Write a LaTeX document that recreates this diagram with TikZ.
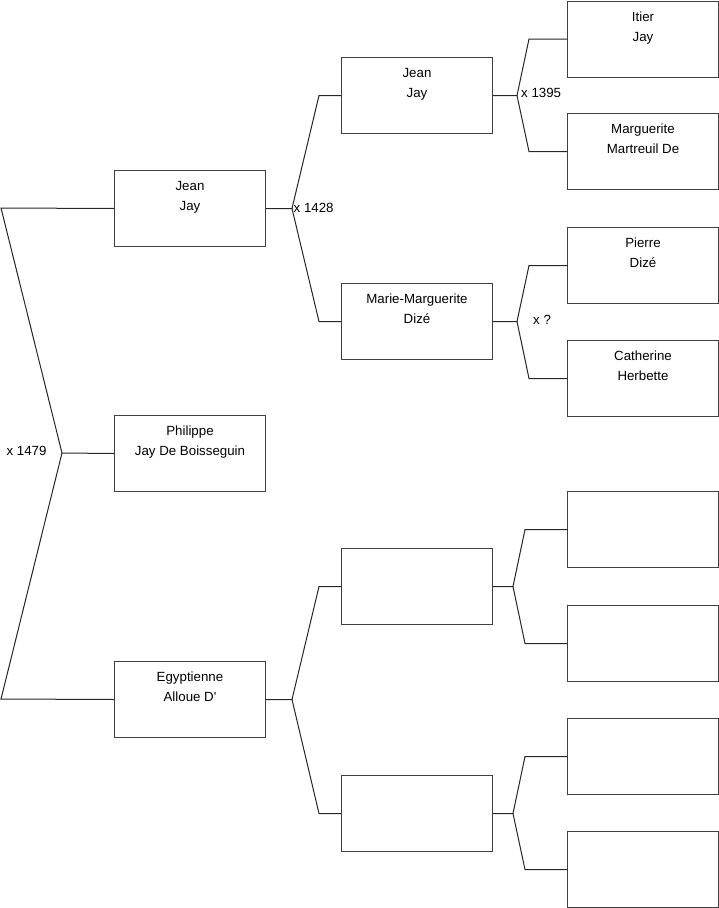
\documentclass[tikz,border=0pt]{standalone}
\usepackage{fontspec}
\setmainfont{Liberation Sans}
\begin{document}
\begin{tikzpicture}[x=1pt,y=-1pt,
  box/.style={draw=black!75, line width=1pt, minimum width=151pt, minimum height=76pt, inner sep=0pt, anchor=north west},
  nm/.style={align=center, inner sep=0pt, font=\fontsize{13.3}{20}\selectfont, text=black},
  lnk/.style={draw=black!85, line width=1pt},
  mar/.style={inner sep=0pt, font=\fontsize{13.3}{15}\selectfont, text=black}]
\useasboundingbox (0,0) rectangle (719,908);
% generation 0 and 1
\node[box] (p) at (114,415) {};
\node[box] (j1) at (114,170) {};
\node[box] (e1) at (114,661) {};
% generation 2
\node[box] (j2) at (341,57) {};
\node[box] (m2) at (341,283) {};
\node[box] (u1) at (341,548) {};
\node[box] (u2) at (341,775) {};
% generation 3
\node[box] (g1) at (567,0.5) {};
\node[box] (g2) at (567,113) {};
\node[box] (g3) at (567,227) {};
\node[box] (g4) at (567,340) {};
\node[box] (g5) at (567,491) {};
\node[box] (g6) at (567,605) {};
\node[box] (g7) at (567,718) {};
\node[box] (g8) at (567,831) {};
% names
\node[nm, anchor=north] (tp) at ([yshift=-6pt]p.north) {\strut Philippe\\\strut Jay De Boisseguin};
\node[nm, anchor=north] (tj1) at ([yshift=-6pt]j1.north) {\strut Jean\\\strut Jay};
\node[nm, anchor=north] (te1) at ([yshift=-6pt]e1.north) {\strut Egyptienne\\\strut Alloue D\textquotesingle};
\node[nm, anchor=north] (tj2) at ([yshift=-6pt]j2.north) {\strut Jean\\\strut Jay};
\node[nm, anchor=north] (tm2) at ([yshift=-6pt]m2.north) {\strut Marie-Marguerite\\\strut Dizé};
\node[nm, anchor=north] (tg1) at ([yshift=-6.5pt]g1.north) {\strut Itier\\\strut Jay};
\node[nm, anchor=north] (tg2) at ([yshift=-6pt]g2.north) {\strut Marguerite\\\strut Martreuil De};
\node[nm, anchor=north] (tg3) at ([yshift=-6pt]g3.north) {\strut Pierre\\\strut Dizé};
\node[nm, anchor=north] (tg4) at ([yshift=-6pt]g4.north) {\strut Catherine\\\strut Herbette};
% root family
\coordinate (v0) at (62,453);
\coordinate (c0a) at (1,208);
\coordinate (c0b) at (1,699);
\draw[lnk] (p.west) -- (v0);
\draw[lnk] (v0) -- (c0a) -- (j1.west);
\draw[lnk] (v0) -- (c0b) -- (e1.west);
\node[mar] (x0) at (26.5,451) {x 1479};
% Jean Jay (gen 1)
\coordinate (v1) at ([xshift=26pt]j1.east);
\draw[lnk] (j1.east) -- (v1) -- ([xshift=-22pt]j2.west) -- (j2.west);
\draw[lnk] (v1) -- ([xshift=-22pt]m2.west) -- (m2.west);
\node[mar, anchor=west] (x1) at ([xshift=1.5pt,yshift=1pt]v1) {x 1428};
% Egyptienne
\coordinate (v2) at ([xshift=26pt]e1.east);
\draw[lnk] (e1.east) -- (v2) -- ([xshift=-22pt]u1.west) -- (u1.west);
\draw[lnk] (v2) -- ([xshift=-22pt]u2.west) -- (u2.west);
% Jean Jay (gen 2)
\coordinate (v3) at ([xshift=24pt]j2.east);
\draw[lnk] (j2.east) -- (v3) -- ([xshift=-38pt]g1.west) -- (g1.west);
\draw[lnk] (v3) -- ([xshift=-38pt]g2.west) -- (g2.west);
\node[mar, anchor=west] (x3) at ([xshift=4pt,yshift=3pt]v3) {x 1395};
% Marie-Marguerite
\coordinate (v4) at ([xshift=24pt]m2.east);
\draw[lnk] (m2.east) -- (v4) -- ([xshift=-38pt]g3.west) -- (g3.west);
\draw[lnk] (v4) -- ([xshift=-38pt]g4.west) -- (g4.west);
\node[mar, anchor=west] (x4) at ([xshift=16pt,yshift=2pt]v4) {x ?};
% unknown couples
\coordinate (v5) at ([xshift=20pt]u1.east);
\draw[lnk] (u1.east) -- (v5) -- ([xshift=-42pt]g5.west) -- (g5.west);
\draw[lnk] (v5) -- ([xshift=-42pt]g6.west) -- (g6.west);
\coordinate (v6) at ([xshift=20pt]u2.east);
\draw[lnk] (u2.east) -- (v6) -- ([xshift=-42pt]g7.west) -- (g7.west);
\draw[lnk] (v6) -- ([xshift=-42pt]g8.west) -- (g8.west);
\end{tikzpicture}
\end{document}
